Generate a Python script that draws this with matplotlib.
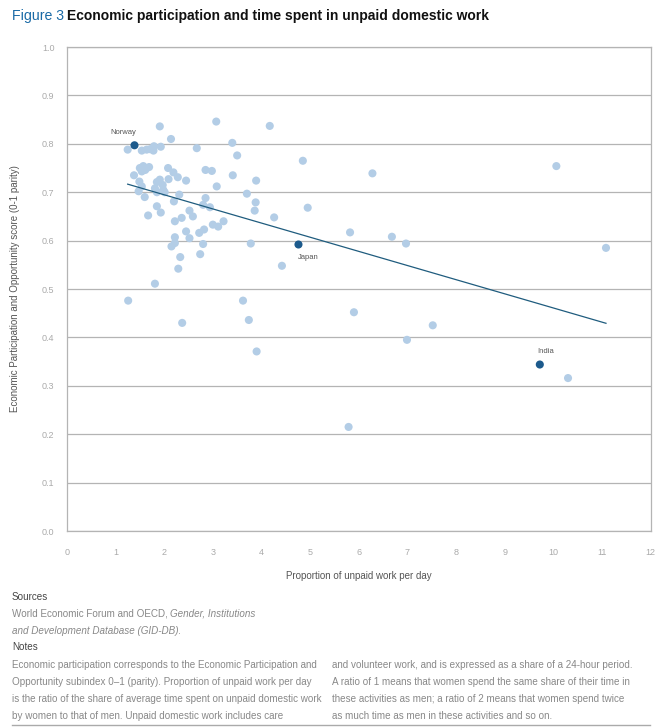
import numpy as np
import matplotlib.pyplot as plt

plt.rcParams.update({
    'font.family': ['Liberation Sans', 'DejaVu Sans'],
    'font.size': 7,
})

# Unpaid work ratio (x) and economic participation score (y)
x_other = [1.91, 3.07, 2.14, 3.40, 3.50, 1.25, 1.54, 1.64, 1.71, 1.78,
           1.79, 1.93, 2.67, 1.50, 1.57, 1.64, 1.69, 1.54, 1.61, 1.38,
           1.49, 1.54, 1.475, 1.60, 2.08, 2.19, 2.28, 2.45, 2.09, 1.85,
           1.91, 1.97, 1.81, 1.98, 1.85, 2.01, 2.31, 2.20, 1.85, 1.67,
           1.93, 2.85, 2.98, 3.41, 3.89, 3.08, 3.70, 3.88, 3.86, 2.85,
           2.80, 2.94, 2.52, 2.59, 2.22, 2.36, 2.45, 2.52, 2.72, 2.82,
           3.00, 3.11, 3.22, 2.22, 2.15, 2.22, 2.80, 2.33, 2.74, 2.29,
           3.78, 1.81, 1.26, 3.62, 3.74, 2.37, 4.17, 4.85, 6.28, 10.06,
           4.26, 4.95, 5.82, 6.68, 6.97, 11.08, 4.42, 5.90, 7.52, 6.99,
           3.90, 10.30, 5.79]
y_other = [0.836, 0.846, 0.810, 0.802, 0.776, 0.788, 0.786, 0.788, 0.789, 0.786,
           0.795, 0.794, 0.791, 0.750, 0.754, 0.750, 0.752, 0.743, 0.746, 0.735,
           0.722, 0.712, 0.702, 0.690, 0.750, 0.741, 0.731, 0.724, 0.727, 0.721,
           0.726, 0.715, 0.708, 0.705, 0.700, 0.700, 0.695, 0.681, 0.671, 0.652,
           0.658, 0.746, 0.744, 0.735, 0.724, 0.712, 0.697, 0.679, 0.662, 0.688,
           0.674, 0.669, 0.662, 0.650, 0.640, 0.647, 0.619, 0.605, 0.616, 0.623,
           0.633, 0.629, 0.640, 0.607, 0.588, 0.595, 0.593, 0.566, 0.572, 0.542,
           0.594, 0.511, 0.476, 0.476, 0.436, 0.430, 0.837, 0.765, 0.739, 0.754,
           0.648, 0.668, 0.617, 0.608, 0.594, 0.585, 0.548, 0.452, 0.425, 0.395,
           0.371, 0.316, 0.215]

highlight_names = ['Norway', 'Japan', 'India']
highlight_x = [1.39, 4.76, 9.72]
highlight_y = [0.797, 0.592, 0.344]

LIGHT = '#b3cde6'
DARK = '#1c5a8c'
GRID = '#b4b4b4'
NOTE = '#888888'
NOTE_FS = 7.15

fig = plt.figure(figsize=(6.62, 7.28), dpi=100)
ax = fig.add_axes([0.101, 0.2706, 0.882, 0.6648])

ax.scatter(x_other, y_other, s=34, color=LIGHT, edgecolors='none', zorder=3)
ax.scatter(highlight_x, highlight_y, s=34, color=DARK, edgecolors='none', zorder=4)

# linear trend through all countries
all_x = np.array(x_other + highlight_x)
all_y = np.array(y_other + highlight_y)
slope, intercept = np.polyfit(all_x, all_y, 1)
xs = np.array([all_x.min(), all_x.max()])
ax.plot(xs, intercept + slope * xs, color='#1f5c7e', lw=0.9, zorder=5)

# country labels
offsets = {'Norway': (-8, 7, 'center', 'bottom'),
           'Japan': (7, -7, 'center', 'top'),
           'India': (4, 7, 'center', 'bottom')}
for name, hx, hy in zip(highlight_names, highlight_x, highlight_y):
    dx, dy, ha, va = offsets[name]
    ax.annotate(name, (hx, hy), xytext=(dx, dy), textcoords='offset points',
                ha=ha, va=va, fontsize=5.5, color='#555555')

ax.set_xlim(0, 12)
ax.set_ylim(0, 1.0)
ax.set_xticks(range(0, 13))
ax.set_yticks(np.arange(0, 1.01, 0.1))
ax.set_yticklabels([f'{v:.1f}' for v in np.arange(0, 1.01, 0.1)])
ax.tick_params(length=0, colors='#aaaaaa', labelsize=6.5)
ax.tick_params(axis='y', pad=9)
ax.tick_params(axis='x', pad=12)
ax.grid(axis='y', color=GRID, lw=0.9)
ax.set_axisbelow(True)
for sp in ax.spines.values():
    sp.set_color(GRID)
    sp.set_linewidth(0.9)

ax.set_xlabel('Proportion of unpaid work per day', color='#555555', fontsize=7)
ax.xaxis.set_label_coords(0.5, -0.082)
ax.set_ylabel('Economic Participation and Opportunity score (0-1 parity)',
              color='#555555', fontsize=7)
ax.yaxis.set_label_coords(-0.081, 0.5)

# title in two colours
fig.canvas.draw()
r = fig.canvas.get_renderer()
t1 = fig.text(12 / 662, 1 - 16 / 728, 'Figure 3', color='#1a6aa6',
              fontsize=10.2, va='center', ha='left')
bb = t1.get_window_extent(renderer=r)
fig.text(bb.x1 / fig.bbox.width + 3 / 662, 1 - 16 / 728,
         'Economic participation and time spent in unpaid domestic work',
         color='#111111', fontsize=10.0, fontweight='bold', va='center', ha='left')

# sources and notes
def fy(py):
    return 1 - py / 728

fig.text(12 / 662, fy(597), 'Sources', color='#444444', fontsize=NOTE_FS, va='center')
s1 = fig.text(12 / 662, fy(614), 'World Economic Forum and OECD, ', color=NOTE,
              fontsize=NOTE_FS, va='center')
bb = s1.get_window_extent(renderer=r)
fig.text(bb.x1 / fig.bbox.width, fy(614), 'Gender, Institutions', color=NOTE,
         fontsize=NOTE_FS, va='center', style='italic')
fig.text(12 / 662, fy(631), 'and Development Database (GID-DB).', color=NOTE,
         fontsize=NOTE_FS, va='center', style='italic')

fig.text(12 / 662, fy(647), 'Notes', color='#444444', fontsize=NOTE_FS, va='center')
left_lines = ['Economic participation corresponds to the Economic Participation and',
              'Opportunity subindex 0\u20131 (parity). Proportion of unpaid work per day',
              'is the ratio of the share of average time spent on unpaid domestic work',
              'by women to that of men. Unpaid domestic work includes care']
right_lines = ['and volunteer work, and is expressed as a share of a 24-hour period.',
               'A ratio of 1 means that women spend the same share of their time in',
               'these activities as men; a ratio of 2 means that women spend twice',
               'as much time as men in these activities and so on.']
for i, (l1, l2) in enumerate(zip(left_lines, right_lines)):
    yy = fy(665 + 17 * i)
    fig.text(12 / 662, yy, l1, color=NOTE, fontsize=NOTE_FS, va='center')
    fig.text(332 / 662, yy, l2, color=NOTE, fontsize=NOTE_FS, va='center')

fig.add_artist(plt.Line2D([12 / 662, 650 / 662], [fy(725), fy(725)],
                          color='#aaaaaa', lw=1.0, transform=fig.transFigure))

fig.savefig('out.png', dpi=100)
